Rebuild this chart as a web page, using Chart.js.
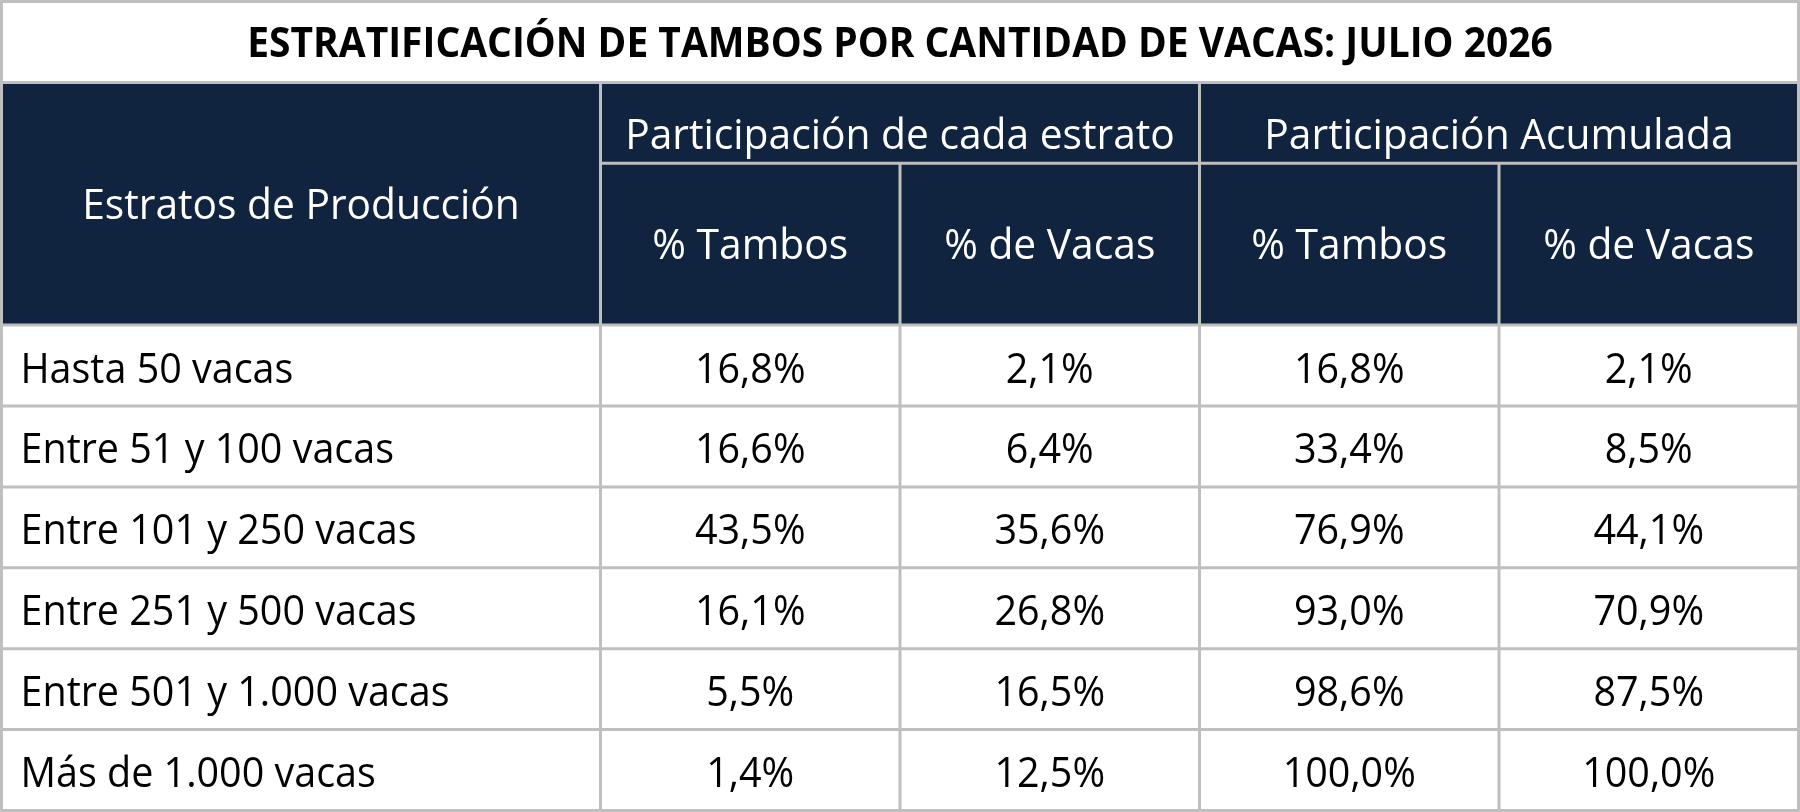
<!DOCTYPE html>
<html lang="es">
<head>
<meta charset="utf-8">
<title>Estratificación de tambos por cantidad de vacas</title>
<script src="https://cdn.jsdelivr.net/npm/chart.js@4.4.1/dist/chart.umd.min.js"></script>
<style>
  html, body { margin: 0; padding: 0; background: #fff; }
  #wrap { width: 1800px; height: 812px; position: relative; }
</style>
</head>
<body>
<div id="wrap"><canvas id="tabla"></canvas></div>
<script>
const titulo = 'ESTRATIFICACIÓN DE TAMBOS POR CANTIDAD DE VACAS: JULIO 2026';
const encabezadoEstratos = 'Estratos de Producción';
const grupos = ['Participación de cada estrato', 'Participación Acumulada'];
const subtitulos = ['% Tambos', '% de Vacas', '% Tambos', '% de Vacas'];
const estratos = [
    'Hasta 50 vacas',
    'Entre 51 y 100 vacas',
    'Entre 101 y 250 vacas',
    'Entre 251 y 500 vacas',
    'Entre 501 y 1.000 vacas',
    'Más de 1.000 vacas'
];
const tambosEstrato = [16.8, 16.6, 43.5, 16.1, 5.5, 1.4];
const vacasEstrato = [2.1, 6.4, 35.6, 26.8, 16.5, 12.5];
const tambosAcumulado = [16.8, 33.4, 76.9, 93.0, 98.6, 100.0];
const vacasAcumulado = [2.1, 8.5, 44.1, 70.9, 87.5, 100.0];

const columnas = [tambosEstrato, vacasEstrato, tambosAcumulado, vacasAcumulado];

// Grid layout in scale units: first column is two units wide, rows are one unit
const bordesCol = [0, 2, 3, 4, 5, 6];
const FILA_DATOS = 4; // title row + 3 header rows

const NAVY = '#10243F';
const GRIS = '#BFBFBF';
const FUENTE = '"Open Sans", "Noto Sans", sans-serif';
const CAP = 0.714; // cap height of Open Sans, em

function fmt(v) {
    return v.toFixed(1).replace('.', ',') + '%';
}

// draws text with its caps centred on cy, squeezed horizontally by sx
function texto(ctx, s, x, cy, o) {
    const size = o.size || 42;
    const sx = o.sx || 0.94;
    ctx.save();
    ctx.font = (o.bold ? 'bold ' : '') + size + 'px ' + FUENTE;
    ctx.fillStyle = o.color || '#000';
    ctx.textAlign = o.align || 'center';
    ctx.textBaseline = 'alphabetic';
    const base = o.baseline !== undefined ? o.baseline : cy + size * CAP / 2;
    ctx.translate(x, base);
    ctx.scale(sx, 1);
    ctx.fillText(s, 0, 0);
    ctx.restore();
}

const tablaPlugin = {
    id: 'tabla',
    beforeDatasetsDraw(chart) {
        const { ctx, scales: { x, y } } = chart;
        const px = v => x.getPixelForValue(v);
        const py = v => y.getPixelForValue(v);
        const ultima = bordesCol[bordesCol.length - 1];
        const filas = FILA_DATOS + estratos.length;

        // header background
        ctx.fillStyle = NAVY;
        ctx.fillRect(px(0), py(1), px(ultima) - px(0), py(FILA_DATOS) - py(1));

        // grid lines
        ctx.strokeStyle = GRIS;
        ctx.lineWidth = 3;
        const linea = (x0, y0, x1, y1) => {
            ctx.beginPath();
            ctx.moveTo(px(x0), py(y0));
            ctx.lineTo(px(x1), py(y1));
            ctx.stroke();
        };
        linea(0, 1, ultima, 1);
        linea(bordesCol[1], 2, ultima, 2);
        for (let r = FILA_DATOS; r < filas; r++) linea(0, r, ultima, r);
        for (let c = 1; c < bordesCol.length - 1; c++) {
            // group header spans two columns
            const desde = (c === 2 || c === 4) ? 2 : 1;
            linea(bordesCol[c], desde, bordesCol[c], filas);
        }
        ctx.strokeRect(px(0), py(0), px(ultima) - px(0), py(filas) - py(0));

        // title
        texto(ctx, titulo, (px(0) + px(ultima)) / 2, (py(0) + py(1)) / 2,
            { bold: true, size: 41, sx: 0.95 });

        // header texts
        const cab = { color: '#fff', sx: 0.97 };
        texto(ctx, encabezadoEstratos, (px(0) + px(bordesCol[1])) / 2,
            (py(1) + py(FILA_DATOS)) / 2, cab);
        grupos.forEach((g, i) => {
            const a = bordesCol[1 + i * 2], b = bordesCol[3 + i * 2];
            texto(ctx, g, (px(a) + px(b)) / 2, 0, { ...cab, baseline: py(2) - 14 });
        });
        subtitulos.forEach((s, i) => {
            texto(ctx, s, (px(bordesCol[i + 1]) + px(bordesCol[i + 2])) / 2,
                (py(2) + py(FILA_DATOS)) / 2, cab);
        });

        // row labels
        estratos.forEach((e, r) => {
            texto(ctx, e, px(0) + 19, py(FILA_DATOS + r + 0.5) + 2, { align: 'left' });
        });
    },
    afterDatasetsDraw(chart) {
        const { ctx } = chart;
        chart.data.datasets.forEach((ds, i) => {
            chart.getDatasetMeta(i).data.forEach((pt, j) => {
                texto(ctx, fmt(ds.data[j].v), pt.x, pt.y + 2, {});
            });
        });
    }
};

const datasets = columnas.map((serie, c) => ({
    label: subtitulos[c],
    data: serie.map((v, r) => ({
        x: (bordesCol[c + 1] + bordesCol[c + 2]) / 2,
        y: FILA_DATOS + r + 0.5,
        v: v
    })),
    pointRadius: 0,
    showLine: false
}));

new Chart(document.getElementById('tabla'), {
    type: 'scatter',
    data: { datasets },
    options: {
        responsive: true,
        maintainAspectRatio: false,
        animation: false,
        events: [],
        layout: { padding: 1.5 },
        scales: {
            x: { type: 'linear', min: 0, max: 6, display: false },
            y: { type: 'linear', min: 0, max: 10, reverse: true, display: false }
        },
        plugins: {
            legend: { display: false },
            tooltip: { enabled: false }
        }
    },
    plugins: [tablaPlugin]
});
</script>
</body>
</html>
